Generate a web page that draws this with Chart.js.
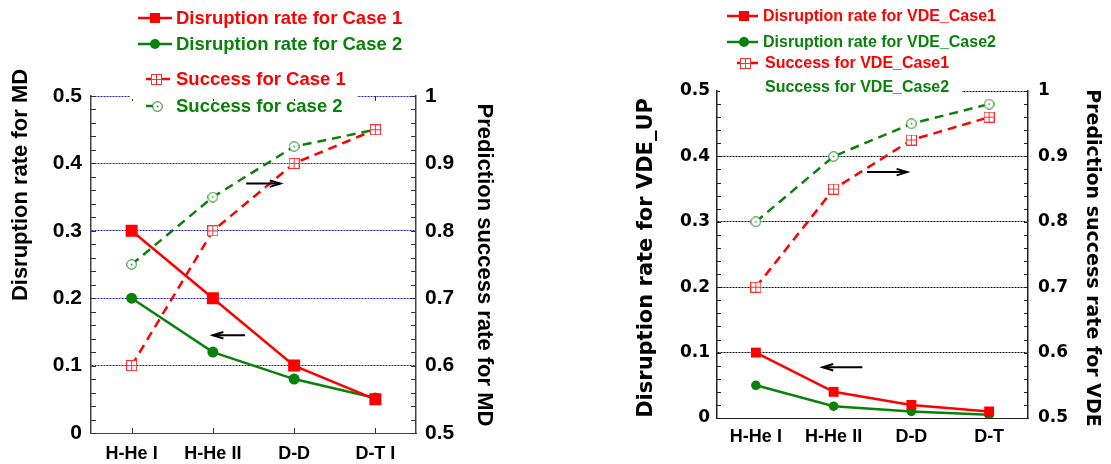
<!DOCTYPE html>
<html>
<head>
<meta charset="utf-8">
<script src="https://cdn.jsdelivr.net/npm/chart.js@4.4.1/dist/chart.umd.min.js"></script>
<style>
  html, body { margin: 0; padding: 0; background: #fff; }
  #wrap { position: relative; width: 1111px; height: 464px; overflow: hidden; }
  canvas { position: absolute; top: 0; }
  #mdChart { left: 0; }
  #vdeChart { left: 555px; }
</style>
</head>
<body>
<div id="wrap">
  <canvas id="mdChart" width="555" height="464"></canvas>
  <canvas id="vdeChart" width="556" height="464"></canvas>
</div>
<script>
// shot types on the x axis
const mdShots = ["H-He I", "H-He II", "D-D", "D-T I"];
const vdeShots = ["H-He I", "H-He II", "D-D", "D-T"];

// left panel (MD)
const mdDisrupt1 = [0.3, 0.2, 0.1, 0.05];
const mdDisrupt2 = [0.2, 0.12, 0.08, 0.052];
const mdSuccess1 = [0.6, 0.8, 0.9, 0.95];
const mdSuccess2 = [0.75, 0.85, 0.925, 0.95];

// right panel (VDE)
const vdeDisrupt1 = [0.1, 0.04, 0.02, 0.01];
const vdeDisrupt2 = [0.05, 0.018, 0.01, 0.005];
const vdeSuccess1 = [0.7, 0.85, 0.925, 0.96];
const vdeSuccess2 = [0.8, 0.9, 0.95, 0.98];

const rateTicks = [0, 0.1, 0.2, 0.3, 0.4, 0.5];
const successTicks = [0.5, 0.6, 0.7, 0.8, 0.9, 1];

const RED = "#ff0000";
const GREEN = "#0a820a";
const ARIAL = '"Liberation Sans", Arial, sans-serif';
const DEJAVU = '"DejaVu Sans", sans-serif';

function icon(kind, color, size) {
  const c = document.createElement("canvas");
  c.width = size; c.height = size;
  const g = c.getContext("2d");
  g.strokeStyle = color; g.fillStyle = "#fff"; g.lineWidth = 1;
  const m = size / 2;
  if (kind === "box") {
    g.fillRect(0, 0, size, size);
    g.strokeRect(0.5, 0.5, size - 1, size - 1);
    const c0 = Math.floor(m) + 0.5;
    g.beginPath();
    g.moveTo(c0, 0); g.lineTo(c0, size);
    g.moveTo(0, c0); g.lineTo(size, c0);
    g.stroke();
  } else {
    g.beginPath(); g.arc(m, m, m - 0.7, 0, Math.PI * 2); g.fill(); g.stroke();
    g.fillStyle = color; g.fillRect(m - 0.75, m - 0.75, 1.5, 1.5);
  }
  return c;
}

function drawMarker(ctx, ds, x, y, r) {
  const st = ds.pointStyle;
  if (st instanceof HTMLCanvasElement) {
    ctx.drawImage(st, Math.round(x - st.width / 2), Math.round(y - st.height / 2));
    return;
  }
  ctx.fillStyle = ds.borderColor;
  ctx.beginPath();
  if (st === "rect") ctx.rect(x - r, y - r, 2 * r, 2 * r);
  else ctx.arc(x, y, r, 0, Math.PI * 2);
  ctx.fill();
}

function arrow(ctx, x0, y0, x1, y1) {
  ctx.beginPath(); ctx.moveTo(x0, y0); ctx.lineTo(x1, y1); ctx.stroke();
  const a = Math.atan2(y1 - y0, x1 - x0), h = 11;
  ctx.beginPath();
  ctx.moveTo(x1 - h * Math.cos(a - 0.3), y1 - h * Math.sin(a - 0.3));
  ctx.lineTo(x1, y1);
  ctx.lineTo(x1 - h * Math.cos(a + 0.3), y1 - h * Math.sin(a + 0.3));
  ctx.stroke();
}

const decor = {
  id: "decor",
  afterDraw(chart, args, o) {
    const { ctx, chartArea: a, scales } = chart;
    const xs = scales.x, ys = scales.y;
    ctx.save();
    // minor ticks on both vertical borders
    ctx.strokeStyle = o.tickColor; ctx.lineWidth = 1;
    ctx.beginPath();
    for (let k = 0; k <= 25; k++) {
      const py = Math.round(ys.getPixelForValue(k * 0.02)) + 0.5;
      ctx.moveTo(a.left, py); ctx.lineTo(a.left + o.tickLen, py);
      ctx.moveTo(a.right, py); ctx.lineTo(a.right - o.tickLen, py);
    }
    if (o.catTicks) {
      chart.data.labels.forEach((l, i) => {
        const px = Math.round(xs.getPixelForValue(i)) + 0.5;
        ctx.moveTo(px, a.bottom); ctx.lineTo(px, a.bottom - o.tickLen);
        ctx.moveTo(px, a.top); ctx.lineTo(px, a.top + o.tickLen);
      });
    }
    ctx.stroke();

    // arrows pointing to the axis each pair belongs to
    ctx.strokeStyle = "#000"; ctx.lineWidth = 2;
    o.arrows.forEach(ar => {
      arrow(ctx, xs.getPixelForValue(ar.from[0]), ys.getPixelForValue(ar.from[1]),
        xs.getPixelForValue(ar.to[0]), ys.getPixelForValue(ar.to[1]));
    });

    // axis titles
    ctx.fillStyle = "#000"; ctx.textAlign = "center"; ctx.textBaseline = "middle";
    o.titles.forEach(t => {
      ctx.save();
      ctx.translate(t.x, t.y);
      ctx.rotate(t.rot * Math.PI / 180);
      ctx.font = t.font;
      ctx.fillText(t.text, 0, 0);
      ctx.restore();
    });

    // legend on a white box over the top of the frame
    const c = o.cover;
    ctx.fillStyle = "#fff";
    ctx.fillRect(c[0], c[1], c[2] - c[0], c[3] - c[1]);
    ctx.font = o.legendFont; ctx.textAlign = "left";
    o.legend.forEach(it => {
      const ds = chart.data.datasets[it.ds];
      if (it.line) {
        ctx.strokeStyle = ds.borderColor; ctx.lineWidth = 2.5;
        ctx.beginPath(); ctx.moveTo(it.line[0], it.y); ctx.lineTo(it.line[1], it.y); ctx.stroke();
        drawMarker(ctx, ds, it.mx, it.y, it.r);
      }
      ctx.fillStyle = ds.borderColor;
      ctx.fillText(ds.label, it.tx, it.y + 1);
    });
    ctx.restore();
  }
};

function series(label, data, color, axis, extra) {
  return Object.assign({
    label: label, data: data, yAxisID: axis,
    borderColor: color, backgroundColor: color,
    borderWidth: 2.5, pointBorderWidth: 0, tension: 0
  }, extra);
}

function buildChart(id, shots, sets, lay, deco) {
  const gridColor = lay.gridColor;
  return new Chart(document.getElementById(id), {
    type: "line",
    data: { labels: shots, datasets: sets },
    options: {
      responsive: false, animation: false, events: [],
      layout: { padding: { top: lay.top, left: 0, right: 0, bottom: 0 }, autoPadding: false },
      plugins: { legend: { display: false }, tooltip: { enabled: false }, decor: deco },
      scales: {
        x: {
          type: "category", offset: true,
          afterFit: s => { s.height = lay.xHeight; },
          grid: { display: false, drawTicks: false },
          border: { display: true, color: lay.frame, width: 1 },
          ticks: { color: "#000", padding: lay.xPad, autoSkip: false, maxRotation: 0,
            font: { family: ARIAL, weight: "bold", size: 18 } }
        },
        y: {
          type: "linear", position: "left", min: 0, max: 0.5,
          afterFit: s => { s.width = lay.leftW; },
          afterBuildTicks: s => { s.ticks = rateTicks.map(v => ({ value: v })); },
          grid: { drawTicks: false, lineWidth: 1,
            color: c => (c.tick && c.tick.value === 0) ? "rgba(0,0,0,0)" : gridColor },
          border: { display: true, color: lay.frame, width: 1.5, dash: [2, 1] },
          ticks: { color: "#000", padding: lay.yPad, callback: v => String(v),
            font: { family: lay.tickFamily, weight: "bold", size: lay.tickSize } }
        },
        y1: {
          type: "linear", position: "right", min: 0.5, max: 1,
          afterFit: s => { s.width = lay.rightW; },
          afterBuildTicks: s => { s.ticks = successTicks.map(v => ({ value: v })); },
          grid: { display: false, drawTicks: false },
          border: { display: true, color: lay.frame, width: 1.5 },
          ticks: { color: "#000", padding: lay.y1Pad, callback: v => String(v),
            font: { family: lay.tickFamily, weight: "bold", size: lay.tickSize } }
        }
      }
    },
    plugins: [decor]
  });
}

const boxRed = icon("box", "#ff3030", 11);
const dotGreen = icon("dot", GREEN, 11);

buildChart("mdChart", mdShots, [
  series("Disruption rate for Case 1", mdDisrupt1, RED, "y", { pointStyle: "rect", pointRadius: 8.5 }),
  series("Disruption rate for Case 2", mdDisrupt2, GREEN, "y", { pointStyle: "circle", pointRadius: 5.5 }),
  series("Success for Case 1", mdSuccess1, RED, "y1", { pointStyle: boxRed, pointRadius: 5, borderDash: [9, 6] }),
  series("Success for case 2", mdSuccess2, GREEN, "y1", { pointStyle: dotGreen, pointRadius: 5, borderDash: [9, 6] })
], {
  top: 96, xHeight: 31, leftW: 91, rightW: 139, xPad: 10, yPad: 9, y1Pad: 9,
  gridColor: "#1c1cc0", frame: "#444", tickFamily: ARIAL, tickSize: 21
}, {
  tickLen: 5, tickColor: "#333", catTicks: true,
  arrows: [{ from: [1.41, 0.37], to: [1.83, 0.37] }, { from: [1.395, 0.145], to: [1.0, 0.145] }],
  titles: [
    { text: "Disruption rate for MD", x: 21, y: 185, rot: -90, font: "bold 22px " + ARIAL },
    { text: "Prediction success rate for MD", x: 484, y: 265, rot: 90, font: "bold 22px " + ARIAL }
  ],
  cover: [130, 0, 357, 99],
  legendFont: "bold 18.5px " + ARIAL,
  legend: [
    { ds: 0, y: 18, line: [138, 172], mx: 155, r: 5, tx: 176 },
    { ds: 1, y: 44, line: [138, 172], mx: 155, r: 5, tx: 176 },
    { ds: 2, y: 79, line: [146, 170], mx: 156, r: 5, tx: 176 },
    { ds: 3, y: 106, line: [146, 156], mx: 157, r: 5, tx: 176 }
  ]
});

buildChart("vdeChart", vdeShots, [
  series("Disruption rate for VDE_Case1", vdeDisrupt1, RED, "y", { pointStyle: "rect", pointRadius: 7 }),
  series("Disruption rate for VDE_Case2", vdeDisrupt2, GREEN, "y", { pointStyle: "circle", pointRadius: 4.8 }),
  series("Success for VDE_Case1", vdeSuccess1, RED, "y1", { pointStyle: boxRed, pointRadius: 5, borderDash: [9, 6] }),
  series("Success for VDE_Case2", vdeSuccess2, GREEN, "y1", { pointStyle: dotGreen, pointRadius: 5, borderDash: [9, 6] })
], {
  top: 91, xHeight: 46, leftW: 162, rightW: 83, xPad: 8, yPad: 7, y1Pad: 10,
  gridColor: "#000", frame: "#222", tickFamily: DEJAVU, tickSize: 17
}, {
  tickLen: 4, tickColor: "#222", catTicks: false,
  arrows: [{ from: [1.43, 0.376], to: [1.945, 0.376] }, { from: [1.37, 0.0775], to: [0.86, 0.0775] }],
  titles: [
    { text: "Disruption rate for VDE_UP", x: 92, y: 258, rot: -90, font: "bold 21px " + DEJAVU },
    { text: "Prediction success rate for VDE", x: 537, y: 258, rot: 90, font: "bold 19px " + DEJAVU }
  ],
  cover: [165, 0, 407, 93],
  legendFont: "bold 16px " + ARIAL,
  legend: [
    { ds: 0, y: 16, line: [172, 203], mx: 189, r: 5, tx: 208 },
    { ds: 1, y: 42, line: [172, 203], mx: 189, r: 5, tx: 208 },
    { ds: 2, y: 63, line: [182, 203], mx: 190, r: 5, tx: 210 },
    { ds: 3, y: 87, tx: 210 }
  ]
});
</script>
</body>
</html>
